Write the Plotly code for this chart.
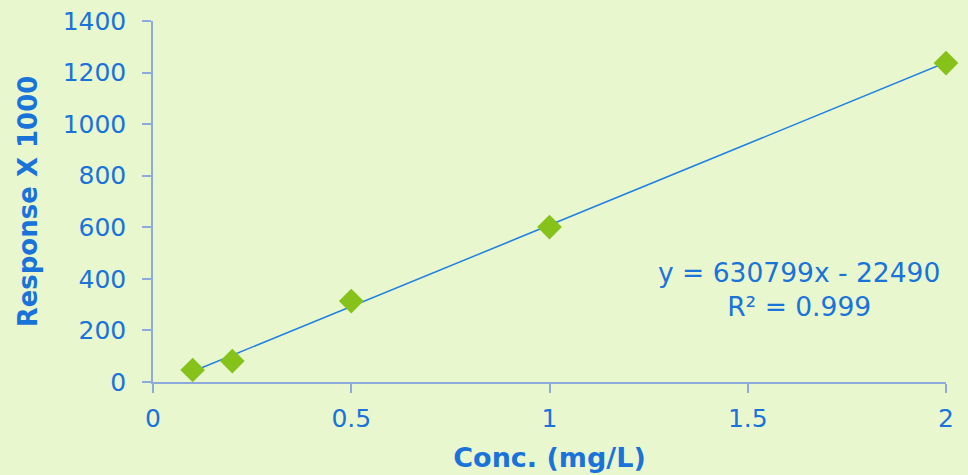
import plotly.graph_objects as go

# Calibration data (response scaled by 1/1000)
conc = [0.1, 0.2, 0.5, 1.0, 2.0]
response = [46.5, 81, 314, 601, 1237]

# Linear fit as reported (raw response units)
slope = 630799
intercept = -22490
r_squared = 0.999

x_ticks = [0, 0.5, 1, 1.5, 2]
x_tick_text = ["0", "0.5", "1", "1.5", "2"]
y_ticks = [0, 200, 400, 600, 800, 1000, 1200, 1400]

BG = "#E9F7CF"
AXIS = "#8EA9DB"
TEXT = "#1A73D9"
MARKER = "#86C21A"
LINE = "#2080E0"
FONT = "DejaVu Sans"

fit_x = [min(conc), max(conc)]
fit_y = [(slope * x + intercept) / 1000 for x in fit_x]

fig = go.Figure()
fig.add_trace(go.Scatter(
    x=fit_x, y=fit_y, mode="lines",
    line=dict(color=LINE, width=1.5), showlegend=False, hoverinfo="skip",
))
fig.add_trace(go.Scatter(
    x=conc, y=response, mode="markers",
    marker=dict(symbol="diamond", size=19, color=MARKER, line=dict(width=0)),
    showlegend=False, cliponaxis=False,
))

fig.add_annotation(
    x=1.628, y=360, xref="x", yref="y",
    text=f"y = {slope}x - {abs(intercept)}<br>R² = {r_squared}",
    showarrow=False, align="center",
    font=dict(family=FONT, size=26.5, color=TEXT),
)

fig.update_layout(
    width=968, height=475,
    margin=dict(l=153, r=22, t=21, b=93, autoexpand=False),
    paper_bgcolor=BG, plot_bgcolor=BG,
    font=dict(family=FONT, color=TEXT),
    xaxis=dict(
        range=[0, 2], tickvals=x_ticks, ticktext=x_tick_text,
        showgrid=False, zeroline=False,
        showline=True, linecolor=AXIS, linewidth=1.5,
        ticks="outside", ticklen=9, tickcolor=AXIS, tickwidth=1.5,
        ticklabelstandoff=4,
        tickfont=dict(family=FONT, size=25, color=TEXT),
        title=dict(text="<b>Conc. (mg/L)</b>", font=dict(family=FONT, size=27, color=TEXT), standoff=16),
    ),
    yaxis=dict(
        range=[0, 1400], tickvals=y_ticks,
        showgrid=False, zeroline=False,
        showline=True, linecolor=AXIS, linewidth=1.5,
        ticks="outside", ticklen=9, tickcolor=AXIS, tickwidth=1.5,
        ticklabelstandoff=11,
        tickfont=dict(family=FONT, size=25, color=TEXT),
        title=dict(text="<b>Response X 1000</b>", font=dict(family=FONT, size=26, color=TEXT), standoff=18),
    ),
)

fig.write_html("out.html")
